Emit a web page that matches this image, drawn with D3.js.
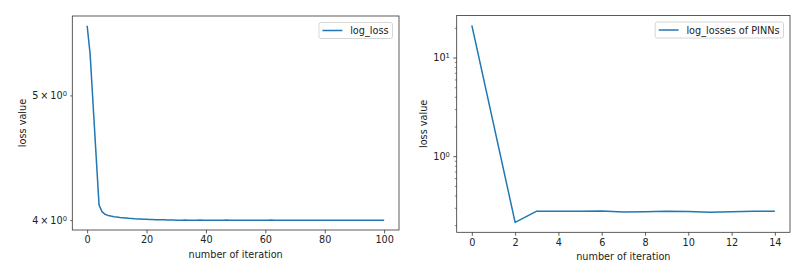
<!DOCTYPE html>
<html>
<head>
<meta charset="utf-8">
<script src="https://cdn.jsdelivr.net/npm/d3@7"></script>
<style>
    body { margin: 0; background: #fff; }
    text { font-family: "DejaVu Sans", sans-serif; fill: #222; }
</style>
</head>
<body>
<div id="chart"></div>
<script>
// two log-scale loss curves side by side

// left panel: log_loss over 101 iterations
const logLoss = [
    5.664, 5.383, 4.920, 4.496, 4.111, 4.061, 4.042, 4.034, 4.029, 4.025,
    4.022, 4.019, 4.017, 4.015, 4.013, 4.012, 4.010, 4.009, 4.008, 4.007,
    4.006, 4.005, 4.004, 4.003, 4.003, 4.002, 4.002, 4.001, 4.001, 4.001,
    4.000, 4.000, 4.000, 4.001, 4.000, 4.000, 4.000, 4.000, 4.001, 4.000,
    4.000, 4.000, 4.000, 4.000, 4.000, 4.000, 4.000, 4.001, 4.000, 4.000,
    4.000, 4.000, 4.000, 4.000, 4.000, 4.000, 4.000, 4.000, 4.000, 4.000,
    4.000, 4.000, 4.001, 4.000, 4.000, 4.000, 4.000, 4.000, 4.000, 4.000,
    4.000, 4.000, 4.000, 4.000, 4.000, 4.000, 3.999, 4.000, 4.000, 4.000,
    4.000, 4.000, 4.000, 4.000, 4.000, 4.000, 4.000, 4.000, 4.000, 4.000,
    3.999, 4.000, 4.000, 4.000, 4.000, 4.000, 4.000, 4.000, 4.000, 4.000,
    4.000
];
const leftXTicks = [0, 20, 40, 60, 80, 100];
const leftYTicks = [4, 5];   // labelled as 4 × 10^0, 5 × 10^0

// right panel: log_losses of PINNs over 15 iterations
const pinnLoss = [21.2, 2.13, 0.213, 0.277, 0.277, 0.277, 0.279, 0.272,
    0.273, 0.277, 0.275, 0.271, 0.273, 0.276, 0.277];
const rightXTicks = [0, 2, 4, 6, 8, 10, 12, 14];
const rightYMajor = [1, 10];
const rightYMinor = [0.2, 0.3, 0.4, 0.5, 0.6, 0.7, 0.8, 0.9,
    2, 3, 4, 5, 6, 7, 8, 9, 20];

const fontSize = 9.7;
const lineColor = '#1f77b4';

const svg = d3.select('#chart').append('svg')
    .attr('width', 805)
    .attr('height', 268);

// base (mantissa) and exponent of a tick value, e.g. 5 -> ['5 × 10', '0']
function sciParts(v, showMantissa) {
    let exp = Math.floor(Math.log10(v) + 1e-9);
    let mant = Math.round(v / Math.pow(10, exp));
    return showMantissa ? [mant + '\u2009\u00d7\u200910', String(exp)] : ['10', String(exp)];
}

function drawPanel(p) {
    let g = svg.append('g');
    let n = p.values.length;

    // matplotlib style 5% margins
    let xPad = (n - 1) * 0.05;
    let x = d3.scaleLinear()
        .domain([-xPad, n - 1 + xPad])
        .range([p.left, p.right]);

    let lo = Math.log10(d3.min(p.values)), hi = Math.log10(d3.max(p.values));
    let yPad = (hi - lo) * 0.05;
    let y = d3.scaleLog()
        .domain([Math.pow(10, lo - yPad), Math.pow(10, hi + yPad)])
        .range([p.bottom, p.top]);

    // x axis
    let xAxisG = g.append('g')
        .attr('transform', `translate(0, ${p.bottom})`)
        .call(d3.axisBottom(x).tickValues(p.xTicks).tickSize(3.4).tickPadding(3.2).tickFormat(d3.format('d')));
    xAxisG.select('.domain').remove();
    xAxisG.selectAll('line').attr('stroke', '#333').attr('stroke-width', 0.8);
    xAxisG.selectAll('text').style('font-size', fontSize + 'px').attr('fill', '#222');

    // y minor ticks (no labels)
    if (p.yMinor) {
        let minorG = g.append('g')
            .attr('transform', `translate(${p.left}, 0)`)
            .call(d3.axisLeft(y).tickValues(p.yMinor).tickSize(1.9).tickFormat(''));
        minorG.select('.domain').remove();
        minorG.selectAll('line').attr('stroke', '#333').attr('stroke-width', 0.6);
    }

    // y labelled ticks
    let yAxisG = g.append('g')
        .attr('transform', `translate(${p.left}, 0)`)
        .call(d3.axisLeft(y).tickValues(p.yTicks).tickSize(p.yTickSize).tickPadding(3.4).tickFormat(''));
    yAxisG.select('.domain').remove();
    yAxisG.selectAll('line').attr('stroke', '#333').attr('stroke-width', 0.8);
    yAxisG.selectAll('.tick text')
        .style('font-size', fontSize + 'px')
        .attr('fill', '#222')
        .each(function(d) {
            let parts = sciParts(d, p.mantissa);
            let t = d3.select(this);
            t.append('tspan').text(parts[0]);
            t.append('tspan')
                .attr('dy', '-0.45em')
                .style('font-size', (fontSize * 0.7) + 'px')
                .text(parts[1]);
        });

    // the line
    g.append('path')
        .datum(p.values)
        .attr('fill', 'none')
        .attr('stroke', lineColor)
        .attr('stroke-width', 1.5)
        .attr('stroke-linejoin', 'round')
        .attr('d', d3.line()
            .x(function(d, i) { return x(i); })
            .y(function(d) { return y(d); }));

    // frame
    g.append('rect')
        .attr('x', p.left)
        .attr('y', p.top)
        .attr('width', p.right - p.left)
        .attr('height', p.bottom - p.top)
        .attr('fill', 'none')
        .attr('stroke', '#333')
        .attr('stroke-width', 0.8);

    // axis labels
    g.append('text')
        .attr('x', (p.left + p.right) / 2)
        .attr('y', p.bottom + 27.5)
        .attr('text-anchor', 'middle')
        .style('font-size', fontSize + 'px')
        .text('number of iteration');

    g.append('text')
        .attr('transform', `translate(${p.yLabelX}, ${(p.top + p.bottom) / 2}) rotate(-90)`)
        .attr('text-anchor', 'middle')
        .style('font-size', fontSize + 'px')
        .text('loss value');

    // legend, upper right
    let leg = g.append('g');
    let box = leg.append('rect')
        .attr('fill', 'white')
        .attr('fill-opacity', 0.8)
        .attr('stroke', '#ccc')
        .attr('stroke-width', 0.8)
        .attr('rx', 2);
    let label = leg.append('text')
        .style('font-size', fontSize + 'px')
        .text(p.legend);
    let textW = label.node().getComputedTextLength();
    let boxW = 4 + 19.4 + 7.8 + textW + 4;
    let boxX = p.right - 6.5 - boxW;
    let boxY = p.top + 6.5;
    box.attr('x', boxX).attr('y', boxY).attr('width', boxW).attr('height', 16);
    leg.append('line')
        .attr('x1', boxX + 3.5).attr('x2', boxX + 23.4)
        .attr('y1', boxY + 8).attr('y2', boxY + 8)
        .attr('stroke', lineColor)
        .attr('stroke-width', 1.5);
    label.attr('x', boxX + 31.2).attr('y', boxY + 11.5);
}

drawPanel({
    values: logLoss, legend: 'log_loss',
    left: 72.3, right: 399, top: 16, bottom: 230,
    xTicks: leftXTicks, yTicks: leftYTicks, yTickSize: 1.9, mantissa: true,
    yLabelX: 26
});

drawPanel({
    values: pinnLoss, legend: 'log_losses of PINNs',
    left: 456.7, right: 790, top: 15.5, bottom: 232.3,
    xTicks: rightXTicks, yTicks: rightYMajor, yMinor: rightYMinor, yTickSize: 3.4, mantissa: false,
    yLabelX: 427
});
</script>
</body>
</html>
